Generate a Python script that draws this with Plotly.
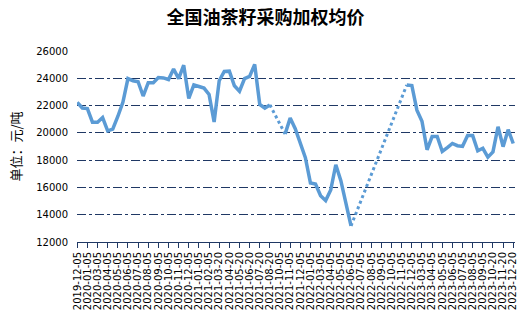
import plotly.graph_objects as go

dates = [
    "2019-12-05", "2019-12-20", "2020-01-05", "2020-01-20", "2020-03-05", "2020-03-20",
    "2020-04-05", "2020-04-20", "2020-05-05", "2020-05-20", "2020-06-05", "2020-06-20",
    "2020-07-05", "2020-07-20", "2020-08-05", "2020-08-20", "2020-09-05", "2020-09-20",
    "2020-10-05", "2020-10-20", "2020-11-05", "2020-11-20", "2020-12-05", "2020-12-20",
    "2021-01-05", "2021-01-20", "2021-02-05", "2021-03-05", "2021-03-20", "2021-04-05",
    "2021-04-20", "2021-05-05", "2021-05-20", "2021-06-05", "2021-06-20", "2021-07-05",
    "2021-07-20", "2021-08-05", "2021-08-20", "2021-09-20", "2021-10-05", "2021-10-20",
    "2021-11-05", "2021-11-20", "2021-12-05", "2021-12-20", "2022-01-05", "2022-01-20",
    "2022-03-05", "2022-03-20", "2022-04-05", "2022-04-20", "2022-05-05", "2022-05-20",
    "2022-06-05", "2022-06-20", "2022-07-05", "2022-07-20", "2022-08-05", "2022-08-20",
    "2022-09-05", "2022-09-20", "2022-10-05", "2022-10-20", "2022-11-05", "2022-11-20",
    "2022-12-05", "2022-12-20", "2023-03-05", "2023-03-20", "2023-04-05", "2023-04-20",
    "2023-05-05", "2023-05-20", "2023-06-05", "2023-06-20", "2023-07-05", "2023-07-20",
    "2023-08-05", "2023-08-20", "2023-09-05", "2023-10-05", "2023-10-20", "2023-11-05",
    "2023-11-20", "2023-12-05", "2023-12-20",
]

tick_labels = dates[::2]

prices = [
    22240, 21820, 21780, 20780, 20780, 21120, 20150, 20270, 21200, 22240,
    23980, 23820, 23750, 22700, 23680, 23680, 24050, 24030, 23910, 24680,
    23980, 24960, 22520, 23520, 23400, 23280, 22820, 20800, 23820, 24500,
    24520, 23450, 23050, 23980, 24140, 25020, 22080, 21820, 22050, None,
    None, 19920, 21080, 20300, 19300, 18180, 16320, 16250, 15390, 15040,
    15810, 17660, 16500, 14700, 13180, None, None, None, None, None,
    None, None, None, None, None, 23510, 23470, 21660, 20850, 18760,
    19730, 19730, 18640, 18920, 19220, 19060, 19010, 19800, 19800, 18690,
    18870, 18220, 18600, 20450, 18990, 20230, 19220,
]

# dotted connectors bridging each run of missing values
gap_x, gap_y = [], []
i = 0
n = len(prices)
while i < n:
    if prices[i] is None:
        start = i - 1
        j = i
        while j < n and prices[j] is None:
            j += 1
        if start >= 0 and j < n:
            gap_x += [dates[start], dates[j], None]
            gap_y += [prices[start], prices[j], None]
        i = j
    else:
        i += 1

LINE = "#5B9BD5"
GRID = "#1F3864"

fig = go.Figure()
fig.add_trace(go.Scatter(
    x=gap_x, y=gap_y, mode="lines", connectgaps=False,
    line=dict(color=LINE, width=3, dash="3px,3px"), showlegend=False,
    hoverinfo="skip",
))
fig.add_trace(go.Scatter(
    x=dates, y=prices, mode="lines", connectgaps=False,
    line=dict(color=LINE, width=3.5), showlegend=False,
))

fig.update_layout(
    width=531, height=322,
    margin=dict(l=77, r=16, t=51, b=70),
    paper_bgcolor="white", plot_bgcolor="white",
    title=dict(
        text="<b>全国油茶籽采购加权均价</b>",
        x=0.5, xanchor="center", y=1 - 18 / 322, yanchor="middle",
        font=dict(family="Noto Sans CJK SC", size=18, color="#000000"),
    ),
    font=dict(family="DejaVu Sans", size=10, color="#000000"),
    xaxis=dict(
        type="category", categoryorder="array", categoryarray=dates,
        range=[-0.05, 86.35],
        tickmode="array", tickvals=tick_labels, ticktext=tick_labels,
        tickangle=-90, tickfont=dict(family="DejaVu Sans", size=10, color="#000000"),
        showgrid=False, zeroline=False,
        showline=True, linecolor=GRID, linewidth=1,
        ticks="outside", ticklen=5, tickcolor=GRID, tickwidth=1,
    ),
    yaxis=dict(
        range=[12000, 26000], dtick=2000, tick0=12000, tickformat="d",
        tickfont=dict(family="DejaVu Sans", size=10, color="#000000"),
        showgrid=True, gridcolor=GRID, gridwidth=1, griddash="dashdot",
        zeroline=False, showline=False,
        ticks="outside", ticklen=6, tickcolor="rgba(0,0,0,0)",
    ),
    annotations=[dict(
        text="单位：元/吨", textangle=-90,
        xref="paper", yref="paper", x=-62 / 438, y=0.5,
        xanchor="center", yanchor="middle", showarrow=False,
        font=dict(family="Noto Sans CJK SC", size=13, color="#000000"),
    )],
)

fig.write_html("out.html")
